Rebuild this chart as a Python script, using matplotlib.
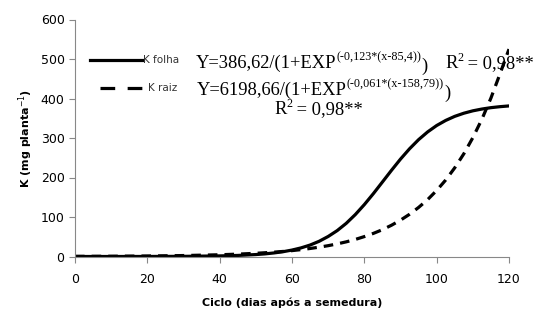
import matplotlib.pyplot as plt

# values (K accumulation, mg planta-1)
dias = [0, 10, 20, 30, 40, 45, 50, 52.5, 55, 57.5, 60, 62.5, 65, 67.5, 70, 72.5, 75, 77.5,
        80, 82.5, 85, 87.5, 90, 92.5, 95, 97.5, 100, 102.5, 105, 107.5, 110, 112.5, 115,
        117.5, 120]
k_folha = [0.0, 0.0, 0.1, 0.4, 1.5, 2.7, 4.9, 6.6, 9.0, 12.1, 16.3, 21.8, 29.0, 38.5, 50.7,
           65.6, 84.0, 106.1, 131.4, 159.2, 188.6, 218.1, 246.6, 272.7, 295.8, 315.4, 331.6,
           344.5, 354.8, 362.7, 368.8, 373.3, 376.8, 379.3, 381.2]
k_raiz = [0.4, 0.7, 1.3, 2.4, 4.4, 6.0, 8.1, 9.5, 11.0, 12.8, 14.9, 17.4, 20.3, 23.6, 27.4,
          31.9, 37.1, 43.2, 50.4, 58.5, 67.9, 79.1, 92.0, 106.9, 124.2, 144.0, 167.2, 193.7,
          224.6, 259.9, 300.8, 347.4, 401.0, 462.2, 525.0]

W, H = 557, 320
fig = plt.figure(figsize=(W / 100, H / 100), dpi=100)
ax = fig.add_axes([75 / W, 1 - 256.5 / H, 434 / W, 237 / H])

dash = (0, (3, 2.2))
ax.plot(dias, k_folha, color='black', lw=2.3)
ax.plot(dias, k_raiz, color='black', lw=2.3, ls=dash)

ax.set_xlim(0, 120)
ax.set_ylim(0, 600)
ax.set_xticks(range(0, 121, 20))
ax.set_yticks(range(0, 601, 100))
for s in ['top', 'right']:
    ax.spines[s].set_visible(False)
for s in ['left', 'bottom']:
    ax.spines[s].set_color('#888888')
ax.tick_params(colors='#888888', labelcolor='black', labelsize=9, length=4)
ax.tick_params(axis='x', pad=8)

ax.set_xlabel('Ciclo (dias após a semedura)', fontsize=8, fontweight='bold', labelpad=8)
ax.set_ylabel('K (mg planta$^{-1}$)', fontsize=8, fontweight='bold', labelpad=4)


def px(x, y):
    return x / W, 1 - y / H


# legend drawn by hand
fig.add_artist(plt.Line2D([90 / W, 143 / W], [1 - 60 / H] * 2, color='black', lw=2.3))
fig.add_artist(plt.Line2D([100 / W, 143 / W], [1 - 88 / H] * 2, color='black', lw=2.3,
                          ls=(0, (4.6, 3.9))))
fig.text(*px(143, 60), 'K folha', fontsize=7.5, va='center', color='#333333')
fig.text(*px(148, 88), 'K raiz', fontsize=7.5, va='center', color='#333333')

serif = 'Liberation Serif'
renderer = fig.canvas.get_renderer()


def equation(x, y, main, sup, end):
    t = fig.text(*px(x, y), main, fontsize=13.3, family=serif, va='baseline')
    x1 = t.get_window_extent(renderer).x1
    s = fig.text(x1 / W, 1 - (y - 8) / H, sup, fontsize=8.7, family=serif, va='baseline')
    x2 = s.get_window_extent(renderer).x1
    fig.text(x2 / W, 1 - (y + 3) / H, end, fontsize=13.3, family=serif, va='baseline')


def r2(x, y):
    t = fig.text(*px(x, y), 'R', fontsize=13.3, family=serif, va='baseline')
    x1 = t.get_window_extent(renderer).x1
    s = fig.text(x1 / W, 1 - (y - 7) / H, '2', fontsize=8.7, family=serif, va='baseline')
    x2 = s.get_window_extent(renderer).x1
    fig.text(x2 / W, 1 - y / H, ' = 0,98**', fontsize=13.3, family=serif, va='baseline')


equation(196, 68, 'Y=386,62/(1+EXP', '(-0,123*(x-85,4))', ')')
r2(445, 68)
equation(197, 95, 'Y=6198,66/(1+EXP', '(-0,061*(x-158,79))', ')')
r2(274, 114)

fig.savefig('out.png', dpi=100)
